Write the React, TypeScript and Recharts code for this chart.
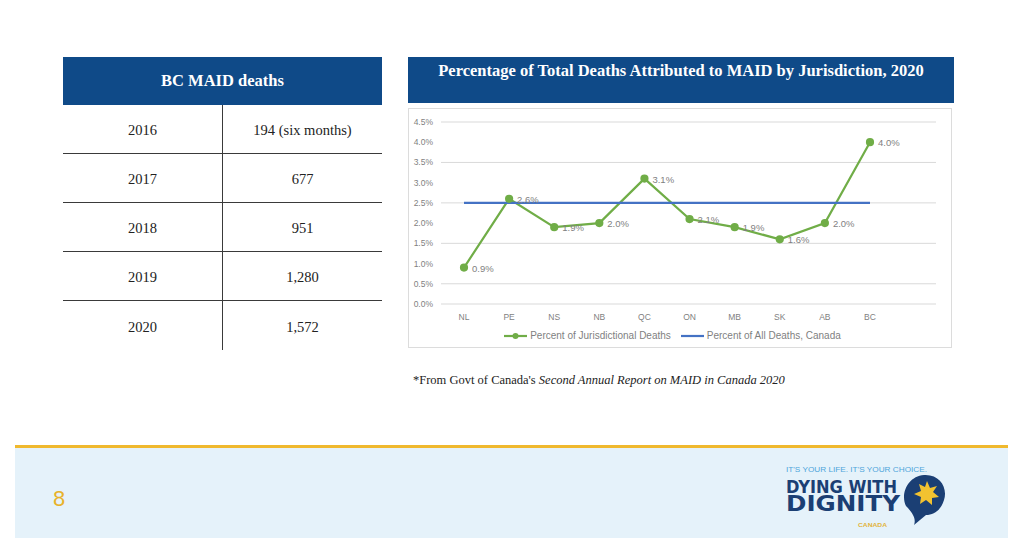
import React from 'react'
import { LineChart, Line, XAxis, YAxis, CartesianGrid, Legend, LabelList } from 'recharts'

const jurisdictions = ['NL', 'PE', 'NS', 'NB', 'QC', 'ON', 'MB', 'SK', 'AB', 'BC']
const jurisdictionalPct = [0.9, 2.6, 1.9, 2.0, 3.1, 2.1, 1.9, 1.6, 2.0, 4.0]
const canadaPct = [2.5, 2.5, 2.5, 2.5, 2.5, 2.5, 2.5, 2.5, 2.5, 2.5]
const yTicks = [0, 0.5, 1, 1.5, 2, 2.5, 3, 3.5, 4, 4.5]

const tableYears = ['2016', '2017', '2018', '2019', '2020']
const tableDeaths = ['194 (six months)', '677', '951', '1,280', '1,572']

const chartData = jurisdictions.map((j, i) => ({
  name: j,
  jur: jurisdictionalPct[i],
  canada: canadaPct[i]
}))

const BLUE = '#0f4a88'
const GREEN = '#70ad47'
const LINE_BLUE = '#4472c4'
const AXIS_TEXT = '#7f7f7f'
const serif = "'Liberation Serif', 'DejaVu Serif', serif"
const sans = "'Liberation Sans', Arial, sans-serif"

const pctLabel = (props: any) => {
  const { x, y, value } = props
  return (
    <text x={x + 8} y={y + 4} fontSize={9.5} fill={AXIS_TEXT} fontFamily={sans}>
      {Number(value).toFixed(1)}%
    </text>
  )
}

// legend in the Excel style: green line with a marker, then the blue line
const legendContent = (props: any) => {
  const items = [...(props.payload || [])].sort((a: any, b: any) => (a.dataKey === 'jur' ? -1 : 1) - (b.dataKey === 'jur' ? -1 : 1))
  return (
    <div style={{ display: 'flex', justifyContent: 'center', alignItems: 'center', fontFamily: sans, fontSize: 10, color: AXIS_TEXT, paddingTop: 5 }}>
      {items.map((it: any) => (
        <div key={it.dataKey} style={{ display: 'flex', alignItems: 'center', marginRight: it.dataKey === 'jur' ? 10 : 0 }}>
          <svg width={23} height={8} style={{ marginRight: 3 }}>
            <line x1={0} y1={4} x2={23} y2={4} stroke={it.color} strokeWidth={2.2} />
            {it.dataKey === 'jur' && <circle cx={11.5} cy={4} r={3} fill={it.color} />}
          </svg>
          <span>{it.value}</span>
        </div>
      ))}
    </div>
  )
}

function BcTable() {
  return (
    <div style={{ position: 'absolute', left: 63, top: 57, width: 319 }}>
      <div
        style={{
          height: 48,
          background: BLUE,
          color: '#fff',
          fontFamily: serif,
          fontWeight: 'bold',
          fontSize: 16.5,
          display: 'flex',
          alignItems: 'center',
          justifyContent: 'center'
        }}
      >
        BC MAID deaths
      </div>
      {tableYears.map((yr, i) => (
        <div
          key={yr}
          style={{
            display: 'flex',
            height: 49,
            boxSizing: 'border-box',
            paddingTop: 3,
            borderBottom: i < tableYears.length - 1 ? '1px solid #3a3a3a' : 'none',
            fontFamily: serif,
            fontSize: 14.5,
            color: '#222'
          }}
        >
          <div style={{ width: 159, display: 'flex', alignItems: 'center', justifyContent: 'center', borderRight: '1px solid #3a3a3a', marginTop: -3, paddingTop: 3 }}>
            {yr}
          </div>
          <div style={{ flex: 1, display: 'flex', alignItems: 'center', justifyContent: 'center' }}>
            {tableDeaths[i]}
          </div>
        </div>
      ))}
    </div>
  )
}

function JurisdictionChart() {
  return (
    <div style={{ position: 'absolute', left: 408, top: 108, width: 544, height: 240, border: '1px solid #dcdcdc', boxSizing: 'border-box', background: '#fff' }}>
      <LineChart width={542} height={238} data={chartData} margin={{ top: 13, right: 15, bottom: 0, left: 0 }}>
        <CartesianGrid vertical={false} stroke="#d9d9d9" />
        <XAxis
          dataKey="name"
          axisLine={false}
          tickLine={false}
          padding={{ left: 23, right: 66 }}
          tickMargin={4}
          tick={{ fill: AXIS_TEXT, fontSize: 8.5, fontFamily: sans }}
          height={21}
        />
        <YAxis
          domain={[0, 4.5]}
          ticks={yTicks}
          axisLine={false}
          tickLine={false}
          width={32}
          tickMargin={2}
          tick={{ fill: AXIS_TEXT, fontSize: 8.5, fontFamily: sans }}
          tickFormatter={(v: number) => `${v.toFixed(1)}%`}
        />
        <Legend verticalAlign="bottom" height={22} content={legendContent} />
        <Line
          name="Percent of Jurisdictional Deaths"
          dataKey="jur"
          stroke={GREEN}
          strokeWidth={2.2}
          dot={{ r: 3, fill: GREEN, stroke: GREEN }}
          isAnimationActive={false}
        >
          <LabelList dataKey="jur" content={pctLabel} />
        </Line>
        <Line
          name="Percent of All Deaths, Canada"
          dataKey="canada"
          stroke={LINE_BLUE}
          strokeWidth={2.2}
          dot={false}
          isAnimationActive={false}
        />
      </LineChart>
    </div>
  )
}

function Logo() {
  const narrow = "'Liberation Sans Narrow', 'DejaVu Sans Condensed', 'Liberation Sans', sans-serif"
  return (
    <svg style={{ position: 'absolute', left: 780, top: 458 }} width={180} height={75}>
      <text x={6} y={14} fontSize={6.5} fill="#4ea5da" fontFamily={sans} textLength={141} lengthAdjust="spacingAndGlyphs">
        IT'S YOUR LIFE. IT'S YOUR CHOICE.
      </text>
      <text x={6} y={34.5} fontSize={17} fontWeight="bold" fill="#1b3f74" fontFamily={narrow} textLength={111} lengthAdjust="spacingAndGlyphs">
        DYING WITH
      </text>
      <text x={6} y={52.5} fontSize={22} fontWeight="bold" fill="#1b3f74" fontFamily={narrow} textLength={114} lengthAdjust="spacingAndGlyphs">
        DIGNITY
      </text>
      <text x={78} y={69} fontSize={6} fontWeight="bold" fill="#e2b43a" fontFamily={sans} textLength={29} lengthAdjust="spacingAndGlyphs">
        CANADA
      </text>
      <path d="M 126 48 C 120 36 128 18 144 17 C 160 16 168 30 164 42 C 161 52 154 57 146 57 C 142 60 138 64 134 67 C 136 62 134 56 126 48 Z" fill="#1b3f74" />
      <path d="M 147 23 L 150 30 L 157 28 L 153 34 L 159 39 L 152 40 L 152 47 L 146 42 L 140 46 L 141 39 L 134 36 L 141 33 L 139 26 L 145 29 Z" fill="#f2c230" />
    </svg>
  )
}

export default function App() {
  return (
    <div style={{ position: 'absolute', left: 0, top: 0, width: 1024, height: 552, background: '#fff', overflow: 'hidden' }}>
      <BcTable />
      <div
        style={{
          position: 'absolute',
          left: 408,
          top: 57,
          width: 546,
          height: 46,
          background: BLUE,
          color: '#fff',
          fontFamily: serif,
          fontWeight: 'bold',
          fontSize: 16.5,
          textAlign: 'center',
          paddingTop: 4,
          boxSizing: 'border-box'
        }}
      >
        Percentage of Total Deaths Attributed to MAID by Jurisdiction, 2020
      </div>
      <JurisdictionChart />
      <div style={{ position: 'absolute', left: 413, top: 373, fontFamily: serif, fontSize: 12.5, color: '#222' }}>
        *From Govt of Canada's <i>Second Annual Report on MAID in Canada 2020</i>
      </div>
      <div style={{ position: 'absolute', left: 15, top: 445, width: 993, height: 3, background: '#f0b92e' }} />
      <div style={{ position: 'absolute', left: 15, top: 448, width: 993, height: 90, background: '#e5f2fa' }} />
      <div style={{ position: 'absolute', left: 53, top: 486, fontFamily: sans, fontSize: 22, color: '#e8b22a' }}>8</div>
      <Logo />
    </div>
  )
}
